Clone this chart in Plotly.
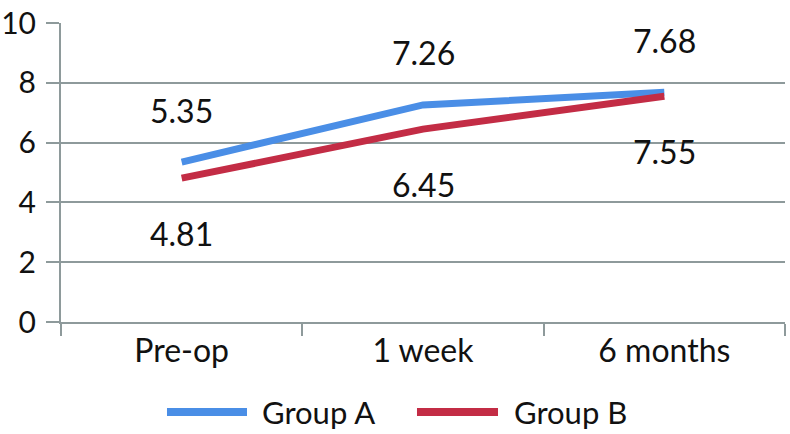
import plotly.graph_objects as go

categories = ["Pre-op", "1 week", "6 months"]
group_a = [5.35, 7.26, 7.68]
group_b = [4.81, 6.45, 7.55]
series_names = ["Group A", "Group B"]
y_ticks = [0, 2, 4, 6, 8, 10]

BLUE = "#4A8EE6"
RED = "#C32C45"
GRID = "#8E9A9B"
FONT = "Lato, 'Open Sans', sans-serif"
TXT = "#111111"

fig = go.Figure()
fig.add_trace(go.Scatter(x=categories, y=group_a, mode="lines", name=series_names[0],
                         line=dict(color=BLUE, width=7), showlegend=False, hoverinfo="skip"))
fig.add_trace(go.Scatter(x=categories, y=group_b, mode="lines", name=series_names[1],
                         line=dict(color=RED, width=7), showlegend=False, hoverinfo="skip"))

annotations = []
for c, v in zip(categories, group_a):
    annotations.append(dict(x=c, y=v, xref="x", yref="y", text=f"{v:.2f}", showarrow=False,
                            yshift=52, font=dict(family=FONT, size=32, color=TXT)))
for c, v in zip(categories, group_b):
    annotations.append(dict(x=c, y=v, xref="x", yref="y", text=f"{v:.2f}", showarrow=False,
                            yshift=-55, font=dict(family=FONT, size=32, color=TXT)))

# custom legend (long line swatches)
legend_y = -0.301
shapes = [
    dict(type="line", xref="paper", yref="paper", x0=0.1464, x1=0.2569, y0=legend_y, y1=legend_y,
         line=dict(color=BLUE, width=8)),
    dict(type="line", xref="paper", yref="paper", x0=0.4917, x1=0.6036, y0=legend_y, y1=legend_y,
         line=dict(color=RED, width=8)),
]
annotations.append(dict(x=0.2749, y=legend_y, xref="paper", yref="paper", text=series_names[0],
                        showarrow=False, xanchor="left", yanchor="middle",
                        font=dict(family=FONT, size=31, color=TXT)))
annotations.append(dict(x=0.6229, y=legend_y, xref="paper", yref="paper", text=series_names[1],
                        showarrow=False, xanchor="left", yanchor="middle",
                        font=dict(family=FONT, size=31, color=TXT)))

fig.update_layout(
    width=790, height=434,
    margin=dict(l=61, r=5, t=23, b=112, autoexpand=False),
    paper_bgcolor="white", plot_bgcolor="white",
    font=dict(family=FONT, color=TXT),
    showlegend=False,
    annotations=annotations,
    shapes=shapes,
    xaxis=dict(type="category", range=[-0.5, 2.5], showgrid=False, showline=True,
               linecolor=GRID, linewidth=2, ticks="outside", tickson="boundaries",
               ticklen=12, tickwidth=2, tickcolor=GRID, zeroline=False, automargin=False,
               tickfont=dict(family=FONT, size=32, color=TXT)),
    yaxis=dict(range=[0, 10], tickvals=y_ticks, showgrid=True, gridcolor=GRID, gridwidth=2,
               showline=True, linecolor=GRID, linewidth=2, ticks="outside", ticklen=13,
               tickwidth=2, tickcolor=GRID, zeroline=False, ticklabelstandoff=4,
               ticklabeloverflow="allow", automargin=False,
               tickfont=dict(family=FONT, size=30, color=TXT)),
)

fig.write_html("out.html", config={"displayModeBar": False},
               post_script="document.body.style.margin='0';document.body.style.overflow='hidden';")
